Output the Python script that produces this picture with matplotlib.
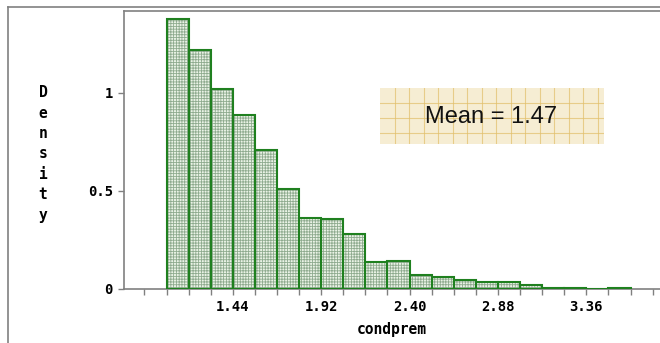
import matplotlib
matplotlib.use("Agg")
import matplotlib.pyplot as plt
import numpy as np
from matplotlib.lines import Line2D

# ---- data ----
bin_edges = [1.08, 1.20, 1.32, 1.44, 1.56, 1.68, 1.80, 1.92, 2.04, 2.16, 2.28,
             2.40, 2.52, 2.64, 2.76, 2.88, 3.00, 3.12, 3.24, 3.36, 3.48, 3.60]
density = [1.378, 1.219, 1.020, 0.888, 0.709, 0.509, 0.364, 0.357, 0.279, 0.139,
           0.144, 0.073, 0.060, 0.044, 0.037, 0.034, 0.022, 0.006, 0.006, 0.0, 0.006]
xtick_vals = [0.96, 1.08, 1.20, 1.32, 1.44, 1.56, 1.68, 1.80, 1.92, 2.04, 2.16,
              2.28, 2.40, 2.52, 2.64, 2.76, 2.88, 3.00, 3.12, 3.24, 3.36, 3.48,
              3.60, 3.72]
xtick_labels = ["1.44", "1.92", "2.40", "2.88", "3.36"]
ytick_vals = [0, 0.5, 1]
ytick_labels = ["0", "0.5", "1"]
mean_text = "Mean = 1.47"
xlabel = "condprem"
ylabel = "Density"

W, H = 660, 343
fig = plt.figure(figsize=(W / 100, H / 100), dpi=100)
fig.patch.set_facecolor("white")

def fx(px):
    return px / W

def fy(py):
    return 1 - py / H

# outer frame
fig.add_artist(Line2D([fx(8), fx(8)], [fy(7), fy(343)], color="#808080", lw=1.2))
fig.add_artist(Line2D([fx(8), fx(660)], [fy(7), fy(7)], color="#808080", lw=1.2))

ax = fig.add_axes([fx(124), fy(289), fx(660) - fx(124), fy(11) - fy(289)])
ax.set_xlim(0.849, 3.76)
ax.set_ylim(0, 1.418)

widths = np.diff(bin_edges)
lefts = np.array(bin_edges[:-1])
plt.rcParams["hatch.linewidth"] = 0.6
ax.bar(lefts, density, width=widths, align="edge", facecolor="#eaf3e6",
       edgecolor="#8fab8f", hatch="++++++", linewidth=0, zorder=2)
ax.bar(lefts, density, width=widths, align="edge", fill=False,
       edgecolor="#1f801f", linewidth=1.5, zorder=3)

ax.spines["right"].set_visible(False)
for s in ["left", "bottom", "top"]:
    ax.spines[s].set_color("#808080")
    ax.spines[s].set_linewidth(1.2)

mono = {"family": "DejaVu Sans Mono", "weight": "bold"}
labels_full = [lab if lab in xtick_labels else "" for lab in [f"{v:.2f}" for v in xtick_vals]]
ax.set_xticks(xtick_vals)
ax.set_xticklabels(labels_full, fontdict=mono, fontsize=10)
ax.set_yticks(ytick_vals)
ax.set_yticklabels(ytick_labels, fontdict=mono, fontsize=10)
ax.tick_params(axis="both", length=4, width=1, color="#808080", pad=4)
ax.set_xlabel(xlabel, fontdict=mono, fontsize=10.5, labelpad=6)

fig.text(fx(43), fy(154), "\n".join(ylabel), ha="center", va="center",
         fontsize=10.5, linespacing=1.45, **mono)

# mean box
bx = fig.add_axes([fx(380), fy(144), fx(604) - fx(380), fy(88) - fy(144)])
bx.set_xlim(0, 224)
bx.set_ylim(56, 0)
bx.set_facecolor("#f6edd3")
for v in np.arange(14.5, 224, 14.5):
    bx.axvline(v, color="#e2bf6a", lw=0.8, alpha=0.7)
for h in np.arange(14.5, 56, 15):
    bx.axhline(h, color="#e2bf6a", lw=0.8, alpha=0.7)
bx.set_xticks([])
bx.set_yticks([])
for s in bx.spines.values():
    s.set_visible(False)
bx.text(111, 29, mean_text, ha="center", va="center", fontsize=17,
        family="Liberation Sans", color="#111111")

fig.savefig("out.png", dpi=100)
